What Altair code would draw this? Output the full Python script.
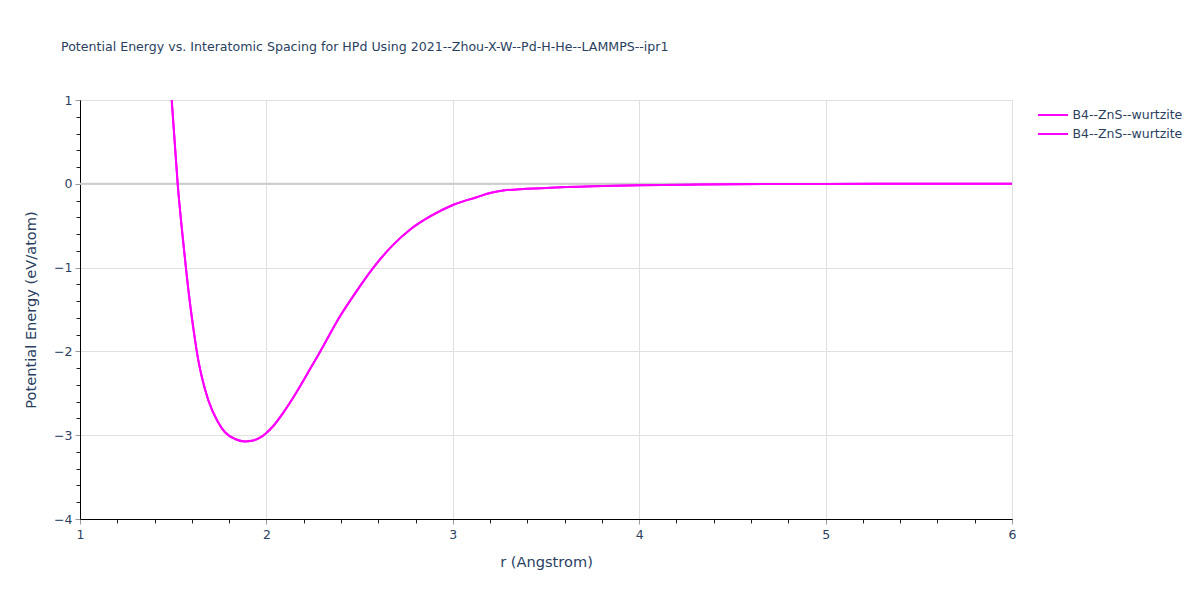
import altair as alt
import pandas as pd

r_vals = [1.492, 1.508, 1.524, 1.547, 1.572, 1.5955, 1.617, 1.631, 1.653, 1.688, 1.737, 1.778,
          1.832, 1.885, 1.912, 1.966, 1.998, 2.037, 2.091, 2.144, 2.198, 2.234, 2.279, 2.395,
          2.484, 2.574, 2.681, 2.77, 2.878, 3.003, 3.128, 3.2, 3.271, 3.5, 3.75, 4.0, 4.25,
          4.5, 5.0, 5.5, 6.0]
e_vals = [1.0, 0.5, 0.0, -0.55, -1.08, -1.52, -1.86, -2.06, -2.30, -2.58, -2.83, -2.965,
          -3.045, -3.075, -3.07, -3.03, -2.976, -2.89, -2.73, -2.55, -2.35, -2.21, -2.04, -1.58,
          -1.28, -1.0, -0.726, -0.548, -0.39, -0.25, -0.16, -0.11, -0.08, -0.05, -0.03, -0.018,
          -0.01, -0.005, -0.001, 0.0, 0.0]
series_keys = ["s1", "s2"]
series_label = "B4--ZnS--wurtzite"
x_major = [1, 2, 3, 4, 5, 6]
y_major = [-4, -3, -2, -1, 0, 1]
x_minor = [round(1 + 0.2 * i, 1) for i in range(26)]
y_minor = [round(-4 + 0.2 * i, 1) for i in range(26)]

rows = []
for k in series_keys:
    for i, (rv, ev) in enumerate(zip(r_vals, e_vals)):
        rows.append({"r": rv, "E": ev, "series": k, "order": i})
df = pd.DataFrame(rows)

FONT = "DejaVu Sans"
TXT = "#2a3f5f"

xscale = alt.Scale(domain=[1, 6], nice=False, zero=False)
yscale = alt.Scale(domain=[-4, 1], nice=False, zero=False)

line = alt.Chart(df).mark_line(strokeWidth=2, clip=True, interpolate="monotone").encode(
    x=alt.X("r:Q", scale=xscale, title="r (Angstrom)",
            axis=alt.Axis(values=x_major, grid=True, gridColor="#e0e0e0", domainColor="#000000",
                          tickColor="#9a9a9a", tickSize=5, labelPadding=4, labelFontSize=12.5,
                          labelColor=TXT, labelFont=FONT, titleFont=FONT, titleFontSize=14.6,
                          titleColor=TXT, titleFontWeight="normal", titlePadding=14,
                          labelFlush=False, format="d", orient="bottom")),
    y=alt.Y("E:Q", scale=yscale, title="Potential Energy (eV/atom)",
            axis=alt.Axis(values=y_major, grid=True, gridColor="#e0e0e0", domainColor="#000000",
                          tickColor="#9a9a9a", tickSize=5, labelPadding=3, labelFontSize=12.5,
                          labelColor=TXT, labelFont=FONT, titleFont=FONT, titleFontSize=14.6,
                          titleColor=TXT, titleFontWeight="normal", titlePadding=15,
                          labelFlush=False, format="d", orient="left")),
    color=alt.Color("series:N",
                    scale=alt.Scale(domain=series_keys, range=["#ff00ff", "#ff00ff"]),
                    legend=alt.Legend(title=None, orient="none", legendX=964.5, legendY=6.5,
                                      labelExpr=f"'{series_label}'", symbolType="M-2,0L2,0",
                                      symbolStrokeWidth=2, symbolSize=225, labelFont=FONT,
                                      labelFontSize=12.5, labelColor=TXT, rowPadding=4,
                                      labelOffset=11)),
    order="order:Q",
)

minor_df = pd.DataFrame({"mx": x_minor, "my": y_minor})
minor = alt.Chart(minor_df).mark_point(opacity=0).encode(
    x=alt.X("mx:Q", scale=xscale, title=None,
            axis=alt.Axis(values=x_minor, grid=False, labels=False, domain=False,
                          tickColor="#222222", tickSize=4, orient="bottom")),
    y=alt.Y("my:Q", scale=yscale, title=None,
            axis=alt.Axis(values=y_minor, grid=False, labels=False, domain=False,
                          tickColor="#222222", tickSize=4, orient="left")),
)

zero_df = pd.DataFrame({"z": [0]})
zero = alt.Chart(zero_df).mark_rule(color="#cccccc", strokeWidth=2).encode(
    y=alt.Y("z:Q", scale=yscale, axis=None)
)

chart = alt.layer(zero, minor, line).resolve_axis(x="independent", y="independent").properties(
    width=932, height=419,
    padding={"left": 72, "top": 92, "right": 180, "bottom": 70},
    autosize=alt.AutoSizeParams(type="none"),
    title=alt.TitleParams(
        "Potential Energy vs. Interatomic Spacing for HPd Using 2021--Zhou-X-W--Pd-H-He--LAMMPS--ipr1",
        anchor="start", frame="group", dx=-19, offset=40, fontSize=12.6, font=FONT,
        color=TXT, fontWeight="normal"),
).configure_view(stroke=None).configure(background="white")

chart.save("out.html", embed_options={"renderer": "svg", "actions": False})
